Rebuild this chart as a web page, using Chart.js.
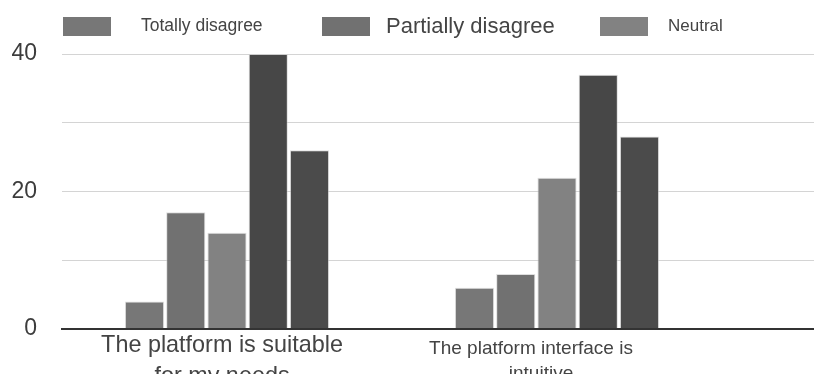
<!DOCTYPE html>
<html>
<head>
<meta charset="utf-8">
<script src="https://cdn.jsdelivr.net/npm/chart.js@4/dist/chart.umd.min.js"></script>
<style>
  html, body { margin: 0; padding: 0; background: #fff; width: 814px; height: 374px; overflow: hidden; }
  #wrap { position: relative; width: 1052px; height: 374px; }
</style>
</head>
<body>
<div id="wrap"><canvas id="chart"></canvas></div>
<script>
// Survey statements (the third slot continues past the visible area)
const categories = [
  ["The platform is suitable", "for my needs"],
  ["The platform interface is", "intuitive"],
  ""
];

// Answer counts per statement
const totallyDisagree   = [4, 6, null];
const partiallyDisagree = [17, 8, null];
const neutral           = [14, 22, null];
const partiallyAgree    = [40, 37, null];
const totallyAgree      = [26, 28, null];

const seriesNames = ["Totally disagree", "Partially disagree", "Neutral", "Partially agree", "Totally agree"];
const seriesValues = [totallyDisagree, partiallyDisagree, neutral, partiallyAgree, totallyAgree];
const seriesColors = ["#777777", "#717171", "#828282", "#474747", "#4b4b4b"];

const yTicks = [0, 20, 40];

const FONT = "'Liberation Sans', Arial, Helvetica, sans-serif";

// Legend drawn across the top, one item per answer option
const topLegend = {
  id: "topLegend",
  afterDraw(chart, args, opts) {
    const ctx = chart.ctx;
    ctx.save();
    chart.data.datasets.forEach((ds, i) => {
      const bx = opts.boxX[i];
      ctx.fillStyle = ds.backgroundColor;
      ctx.fillRect(bx, opts.top, opts.boxW, opts.boxH);
      ctx.font = opts.fontSize[i] + "px " + FONT;
      ctx.fillStyle = "#444";
      ctx.textBaseline = "middle";
      ctx.textAlign = "left";
      ctx.fillText(ds.label, opts.textX[i], opts.top + opts.boxH / 2);
    });
    ctx.restore();
  }
};

// Category labels under the x axis, each with its own size and nudge
const categoryLabels = {
  id: "categoryLabels",
  afterDraw(chart, args, opts) {
    const scale = chart.scales.x;
    const ctx = chart.ctx;
    ctx.save();
    ctx.fillStyle = "#444";
    ctx.textAlign = "center";
    ctx.textBaseline = "middle";
    chart.data.labels.forEach((label, i) => {
      const lines = Array.isArray(label) ? label : [label];
      const cx = scale.getPixelForValue(i);
      ctx.font = opts.fontSize[i] + "px " + FONT;
      lines.forEach((line, j) => {
        ctx.fillText(line, cx + opts.shift[i][j], scale.top + opts.offsetY[i] + j * opts.lineHeight[i]);
      });
    });
    ctx.restore();
  }
};

const datasets = seriesNames.map((name, i) => ({
  label: name,
  data: seriesValues[i],
  backgroundColor: seriesColors[i],
  borderColor: "rgba(200,200,200,0.6)",
  borderWidth: 1,
  categoryPercentage: 0.625,
  barPercentage: 0.95
}));

new Chart(document.getElementById("chart"), {
  type: "bar",
  data: { labels: categories, datasets },
  plugins: [topLegend, categoryLabels],
  options: {
    responsive: true,
    maintainAspectRatio: false,
    animation: false,
    layout: { padding: { top: 54, right: 0, left: 0, bottom: 0 } },
    plugins: {
      legend: { display: false },
      tooltip: { enabled: false },
      topLegend: {
        boxX: [63, 322, 600, 880, 1150],
        textX: [141, 386, 668, 946, 1216],
        fontSize: [17.5, 22, 17, 17, 17],
        top: 17, boxW: 48, boxH: 19
      },
      categoryLabels: {
        fontSize: [23.4, 19, 19],
        lineHeight: [31, 25, 25],
        offsetY: [17, 20, 20],
        shift: [[-5, -5], [-26, -16], [0, 0]]
      }
    },
    scales: {
      x: {
        grid: { display: false },
        border: { display: true, color: "#333", width: 2 },
        ticks: { display: false },
        afterFit(scale) { scale.height = 45; }
      },
      y: {
        min: 0,
        max: 40,
        border: { display: false },
        grid: {
          drawTicks: false,
          color: (c) => c.tick.value === 0 ? "#333" : "#d4d4d4",
          lineWidth: (c) => c.tick.value === 0 ? 2 : 1
        },
        ticks: {
          stepSize: 10,
          autoSkip: false,
          padding: 25,
          color: "#3c3c3c",
          font: { family: FONT, size: 23 },
          callback: (v) => yTicks.includes(v) ? String(v) : ""
        },
        afterFit(scale) { scale.width = 62; }
      }
    }
  }
});
</script>
</body>
</html>
